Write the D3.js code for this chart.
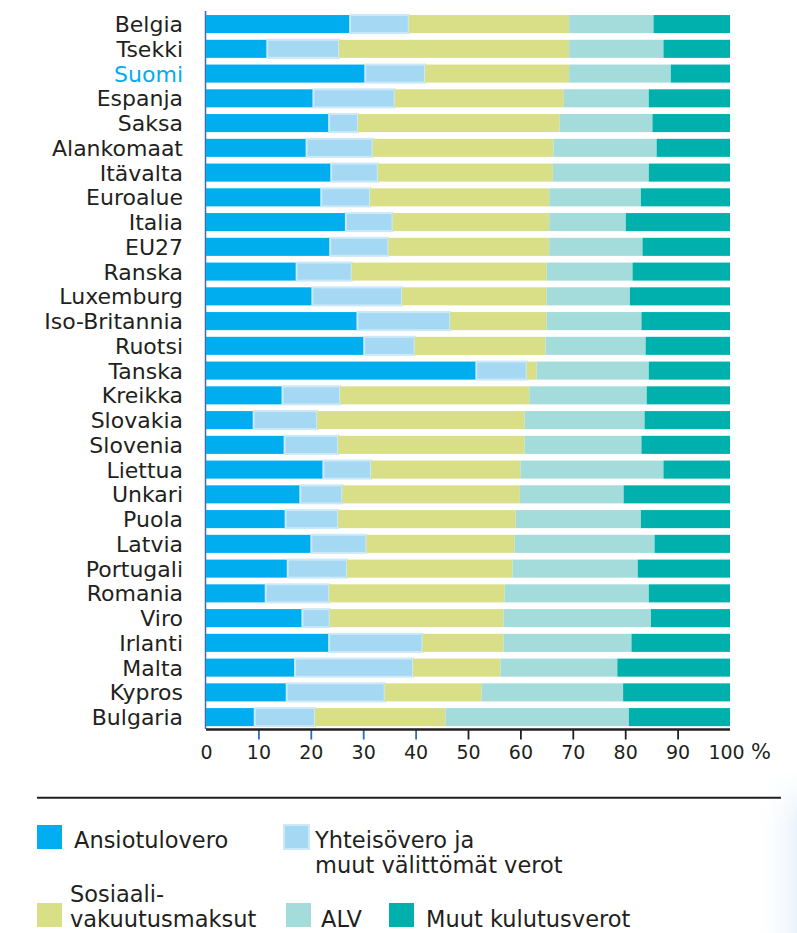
<!DOCTYPE html>
<html>
<head>
<meta charset="utf-8">
<script src="https://cdn.jsdelivr.net/npm/d3@7/dist/d3.min.js"></script>
<style>
  html, body { margin: 0; padding: 0; background: #ffffff; }
  svg { display: block; }
  text { font-family: "DejaVu Sans", sans-serif; fill: #231f20; }
</style>
</head>
<body>
<script>
const countries = ["Belgia","Tsekki","Suomi","Espanja","Saksa","Alankomaat","Itävalta","Euroalue","Italia","EU27","Ranska","Luxemburg","Iso-Britannia","Ruotsi","Tanska","Kreikka","Slovakia","Slovenia","Liettua","Unkari","Puola","Latvia","Portugali","Romania","Viro","Irlanti","Malta","Kypros","Bulgaria"];
const ansiotulovero = [27.5,11.7,30.4,20.5,23.5,19.2,23.9,22.0,26.7,23.7,17.3,20.3,28.9,30.2,51.6,14.6,9.1,15.0,22.4,18.0,15.2,20.1,15.6,11.4,18.4,23.5,17.0,15.4,9.3];
const yhteisovero = [11.2,13.7,11.4,15.5,5.5,12.6,8.9,9.3,8.9,11.1,10.5,17.1,17.7,9.6,9.6,11.0,12.1,10.2,9.1,8.0,10.0,10.5,11.3,12.1,5.2,17.8,22.5,18.7,11.5];
const sosiaalivakuutus = [30.6,43.9,27.5,32.3,38.5,34.5,33.4,34.2,29.9,30.7,37.2,27.6,18.4,25.0,1.9,36.1,39.6,35.6,28.5,33.9,33.9,28.3,31.6,33.5,33.2,15.5,16.7,18.5,24.9];
const alv = [16.1,18.0,19.4,16.2,17.7,19.7,18.3,17.5,14.6,17.8,16.4,15.9,18.1,19.1,21.4,22.4,22.9,22.3,27.3,19.8,23.9,26.7,23.9,27.5,28.1,24.4,22.3,27.0,35.0];
const muutKulutusverot = [14.6,12.7,11.3,15.5,14.8,14.0,15.5,17.0,19.9,16.7,18.6,19.1,16.9,16.1,15.5,15.9,16.3,16.9,12.7,20.3,17.0,14.4,17.6,15.5,15.1,18.8,21.5,20.4,19.3];
const seriesNames = ["Ansiotulovero","Yhteisövero ja muut välittömät verot","Sosiaalivakuutusmaksut","ALV","Muut kulutusverot"];
const seriesColors = ["#00aeef","#a5d8f3","#d9df86","#a4dbdb","#00b0ad"];
const tickValues = [0,10,20,30,40,50,60,70,80,90,100];
const highlight = "Suomi";

const W = 797, H = 933;
const svg = d3.select("body").append("svg").attr("width", W).attr("height", H);

// very subtle background tint at right edge
const defs = svg.append("defs");
const grad = defs.append("linearGradient").attr("id","edge").attr("x1","0").attr("x2","1").attr("y1","0").attr("y2","0");
grad.append("stop").attr("offset","0").attr("stop-color","#ffffff").attr("stop-opacity",0);
grad.append("stop").attr("offset","1").attr("stop-color","#eaf3fa").attr("stop-opacity",1);
const vgrad = defs.append("linearGradient").attr("id","edgeMask").attr("x1","0").attr("x2","0").attr("y1","0").attr("y2","1");
vgrad.append("stop").attr("offset","0").attr("stop-color","#fff").attr("stop-opacity",0);
vgrad.append("stop").attr("offset","0.35").attr("stop-color","#fff").attr("stop-opacity",1);
const mask = defs.append("mask").attr("id","fadeMask");
mask.append("rect").attr("x",752).attr("y",770).attr("width",45).attr("height",163).attr("fill","url(#edgeMask)");
svg.append("rect").attr("x",752).attr("y",770).attr("width",45).attr("height",163)
  .attr("fill","url(#edge)").attr("mask","url(#fadeMask)");

const keys = ["a","b","c","d","e"];
const rows = countries.map((c,i) => ({country:c, a:ansiotulovero[i], b:yhteisovero[i], c:sosiaalivakuutus[i], d:alv[i], e:muutKulutusverot[i]}));
const stacked = d3.stack().keys(keys)(rows);

const x = d3.scaleLinear().domain([0,100]).range([206, 730]);
const y = d3.scaleBand().domain(countries).range([11.7, 729.5]).paddingInner(0.27).paddingOuter(0.135);

// left axis line
svg.append("line").attr("x1",205.5).attr("x2",205.5).attr("y1",11).attr("y2",729)
  .attr("stroke","#3f6ea8").attr("stroke-width",1.5);

const g = svg.append("g");
stacked.forEach((s, si) => {
  g.append("g").selectAll("rect").data(s).join("rect")
    .attr("x", d => x(d[0]))
    .attr("y", d => y(d.data.country))
    .attr("width", d => x(d[1]) - x(d[0]))
    .attr("height", y.bandwidth())
    .attr("fill", seriesColors[si])
    .attr("stroke", si === 1 ? "#cbe9f9" : "none")
    .attr("stroke-width", si === 1 ? 2 : 0);
});

// country labels
svg.append("g").selectAll("text").data(countries).join("text")
  .attr("x", 183)
  .attr("y", d => y(d) + y.bandwidth()/2 + 8)
  .attr("text-anchor","end")
  .style("font-size","22px")
  .style("fill", d => d === highlight ? "#00aeef" : "#231f20")
  .text(d => d);

// bottom axis
const axisY = 729.5;
const ax = svg.append("g").attr("transform", `translate(0,${axisY})`)
  .call(d3.axisBottom(x).tickValues(tickValues).tickSize(10).tickFormat(d => d));
ax.select(".domain").remove();
ax.selectAll(".tick line")
  .attr("stroke", d => (d === 0 || d === 100) ? "none" : (d < 50 ? "#2a6ebb" : "#231f20"))
  .attr("stroke-width", 1.8);
ax.selectAll(".tick text")
  .attr("y", 29.5).attr("dy", 0)
  .attr("dx", d => d === 100 ? -4 : 0)
  .style("font-family", "DejaVu Sans, sans-serif")
  .style("font-size","19px")
  .attr("fill","#231f20");
svg.append("line").attr("x1", x(0)).attr("x2", x(100)).attr("y1", axisY).attr("y2", axisY)
  .attr("stroke","#231f20").attr("stroke-width",2.5);
svg.append("text").attr("x",751).attr("y",759).style("font-size","21px").text("%");

// separator
svg.append("line").attr("x1",37).attr("x2",781).attr("y1",797.7).attr("y2",797.7)
  .attr("stroke","#231f20").attr("stroke-width",2);

// legend
const legend = [
  {i:0, sx:37, sy:825, tx:74, lines:["Ansiotulovero"], by:848},
  {i:1, sx:284, sy:825, tx:315, lines:["Yhteisövero ja","muut välittömät verot"], by:848},
  {i:2, sx:37, sy:903, tx:70, lines:["Sosiaali-","vakuutusmaksut"], by:901.7},
  {i:3, sx:286, sy:903, tx:321, lines:["ALV"], by:926.7},
  {i:4, sx:389, sy:903, tx:426, lines:["Muut kulutusverot"], by:926.7}
];
const lg = svg.append("g");
legend.forEach(l => {
  lg.append("rect").attr("x", l.sx).attr("y", l.sy).attr("width", 25).attr("height", 24)
    .attr("fill", seriesColors[l.i])
    .attr("stroke", l.i === 1 ? "#cbe9f9" : "none").attr("stroke-width", l.i === 1 ? 2 : 0);
  const t = lg.append("text").attr("x", l.tx).attr("y", l.by).style("font-size","22.5px");
  l.lines.forEach((line, k) => {
    t.append("tspan").attr("x", l.tx).attr("y", l.by + k*25).text(line);
  });
});
</script>
</body>
</html>
